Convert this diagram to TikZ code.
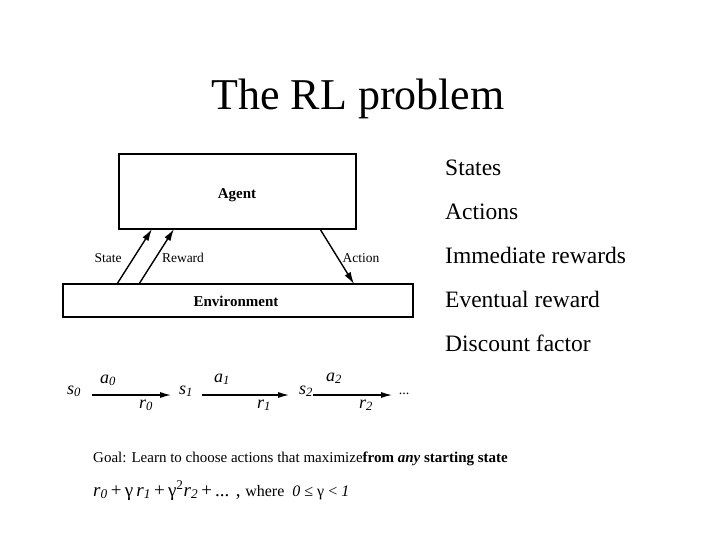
\documentclass[tikz,border=0pt]{standalone}
\usepackage{fontspec}
\setmainfont{Liberation Serif}
\usetikzlibrary{arrows.meta}
\begin{document}
\begin{tikzpicture}[x=1pt,y=-1pt,
  box/.style={draw,line width=1.3pt},
  lbl/.style={font=\fontsize{13.5}{15}\selectfont,inner sep=0pt,anchor=base},
  item/.style={font=\fontsize{23.5}{26}\selectfont,inner sep=0pt,anchor=base west},
  seq/.style={font=\fontsize{18}{20}\selectfont\itshape,inner sep=0pt,anchor=base},
  arr/.style={line width=1.4pt,-{Latex[length=12pt,width=7pt]}},
  seqarr/.style={line width=1.8pt,-{Latex[length=12pt,width=6pt]}}]
\useasboundingbox (0,0) rectangle (720,540);
\node[font=\fontsize{44}{48}\selectfont,inner sep=0pt,anchor=base] (title) at (358,110) {The RL problem};
% boxes
\draw[box] (119,154) rectangle (356,229);
\node[font=\fontsize{15}{17}\selectfont\bfseries,inner sep=0pt,anchor=base] (agent) at (237,199) {Agent};
\draw[line width=1.1pt] (63,284) rectangle (413,317);
\node[font=\fontsize{15}{17}\selectfont\bfseries,inner sep=0pt,anchor=base] (env) at (236,306) {Environment};
% arrows
\coordinate (s1) at (117,284); \coordinate (s2) at (152,229);
\coordinate (r1) at (139,284); \coordinate (r2) at (174,229);
\coordinate (a1) at (320,229); \coordinate (a2) at (354,284);
\draw[arr] (s1) -- (s2);
\draw[arr] (r1) -- (r2);
\draw[arr] (a1) -- (a2);
\node[lbl] (lstate) at (108,262) {State};
\node[lbl] (lreward) at (183,262) {Reward};
\node[lbl] (laction) at (361,262) {Action};
% list
\node[item] (i1) at (445,176) {States};
\node[item] (i2) at (445,220) {Actions};
\node[item] (i3) at (445,263) {Immediate rewards};
\node[item] (i4) at (445,307) {Eventual reward};
\node[item] (i5) at (445,351) {Discount factor};
% sequence
\node[seq] (S0) at (74,394) {s\textsubscript{0}};
\node[seq] (S1) at (186,394) {s\textsubscript{1}};
\node[seq] (S2) at (306,394) {s\textsubscript{2}};
\node[seq,font=\fontsize{14}{16}\selectfont] (dots) at (404,394) {...};
\coordinate (e0a) at (92,395); \coordinate (e0b) at (172,395);
\coordinate (e1a) at (202,395); \coordinate (e1b) at (290,395);
\coordinate (e2a) at (313,395); \coordinate (e2b) at (393,395);
\draw[seqarr] (e0a) -- (e0b);
\draw[seqarr] (e1a) -- (e1b);
\draw[seqarr] (e2a) -- (e2b);
\node[seq] (A0) at (108,383) {a\textsubscript{0}};
\node[seq] (A1) at (222,382) {a\textsubscript{1}};
\node[seq] (A2) at (334,381) {a\textsubscript{2}};
\node[seq] (R0) at (146,408) {r\textsubscript{0}};
\node[seq] (R1) at (264,408) {r\textsubscript{1}};
\node[seq] (R2) at (366,408) {r\textsubscript{2}};
% goal
\node[font=\fontsize{15}{17}\selectfont,inner sep=0pt,anchor=base west] (goal) at (93,462) {Goal: Learn to choose actions that maximize\textbf{from \textit{any} starting state}};
\node[font=\fontsize{19}{21}\selectfont,inner sep=0pt,anchor=base west] (formula) at (93,496)
 {\textit{r}\textsubscript{\textit{0}}\,+\,γ\,\textit{r}\textsubscript{\textit{1}}\,+\,γ\textsuperscript{2}\textit{r}\textsubscript{\textit{2}}\,+\,... ,\ \fontsize{16}{18}\selectfont where \ \textit{0} ≤ γ < \textit{1}};
\end{tikzpicture}
\end{document}
